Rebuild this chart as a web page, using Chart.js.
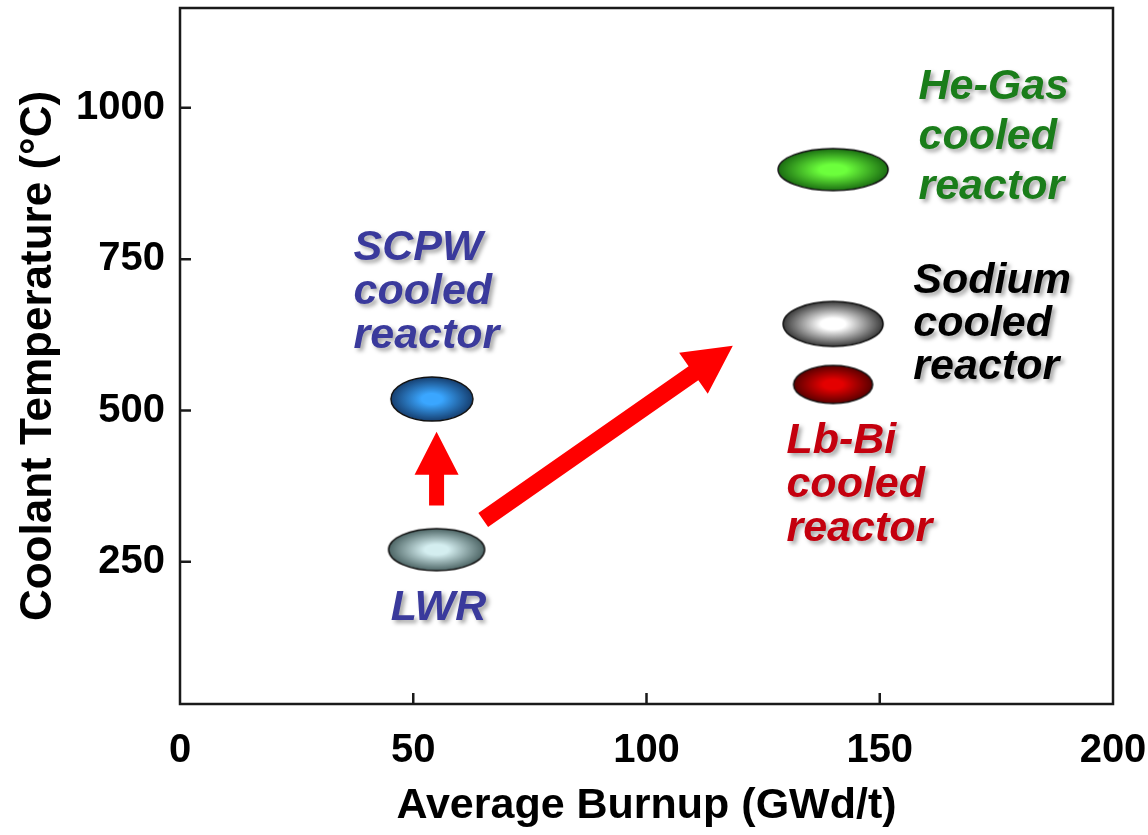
<!DOCTYPE html>
<html>
<head>
<meta charset="utf-8">
<script src="https://cdn.jsdelivr.net/npm/chart.js@4.4.0/dist/chart.umd.min.js"></script>
<style>
    html, body { margin: 0; padding: 0; background: #fff; }
    #wrap { width: 1148px; height: 835px; position: relative; }
</style>
</head>
<body>
<div id="wrap"><canvas id="myChart"></canvas></div>
<script>
// DATA
const reactorNames = ["LWR", "SCPW", "He-Gas", "Sodium", "Lb-Bi"];
const averageBurnup = [55, 54, 140, 140, 140];
const coolantTemp = [270, 519, 898, 643, 543];

const xTickValues = [0, 50, 100, 150, 200];
const yTickValues = [250, 500, 750, 1000];

// ARROWS (LWR -> SCPW, LWR -> fast reactors)
const arrowFromBurnup = [55, 65];
const arrowFromTemp = [343, 319];
const arrowToBurnup = [55, 118.5];
const arrowToTemp = [465, 607];

const labelLines = [
    ["LWR"],
    ["SCPW", "cooled", "reactor"],
    ["He-Gas", "cooled", "reactor"],
    ["Sodium", "cooled", "reactor"],
    ["Lb-Bi", "cooled", "reactor"],
];

// STYLES
const FONT = "'Liberation Sans', Arial, Helvetica, sans-serif";

// label anchor (in axis units), alignment, line height, colour
const labelStyle = [
    { x: 55.4, y: 174, align: "center", lh: 44, color: "#3a3a9c" },
    { x: 37.2, y: 768, align: "left", lh: 44, color: "#3a3a9c" },
    { x: 158.3, y: 1034, align: "left", lh: 50, color: "#1a7d1a" },
    { x: 157.2, y: 714, align: "left", lh: 43, color: "#000000" },
    { x: 130, y: 450, align: "left", lh: 44, color: "#c4000e" },
];

// blob sizes and gradient colours
const blobStyle = [
    { w: 96, h: 42, inner: "#d4eef0", outer: "#4d6565" },
    { w: 82, h: 44, inner: "#3aa6ff", outer: "#163f70" },
    { w: 110, h: 42, inner: "#6cff3c", outer: "#1b6e12" },
    { w: 100, h: 45, inner: "#ffffff", outer: "#3a3a3a" },
    { w: 79, h: 38, inner: "#e40000", outer: "#5a0000" },
];

const arrowStyle = [
    { shaft: 15, headL: 43, headW: 44 },
    { shaft: 17, headL: 48, headW: 50 },
];

// MAKE ELLIPSE POINT IMAGE
function makeBlob(s) {
    const pad = 3;
    const c = document.createElement("canvas");
    c.width = s.w + pad * 2;
    c.height = s.h + pad * 2;
    const g = c.getContext("2d");
    g.save();
    g.translate(c.width / 2, c.height / 2);
    g.scale(1, s.h / s.w);
    const grad = g.createRadialGradient(0, 0, 0, 0, 0, s.w / 2);
    grad.addColorStop(0, s.inner);
    grad.addColorStop(0.25, s.inner);
    grad.addColorStop(1, s.outer);
    g.beginPath();
    g.arc(0, 0, s.w / 2, 0, Math.PI * 2);
    g.fillStyle = grad;
    g.fill();
    g.restore();
    g.beginPath();
    g.ellipse(c.width / 2, c.height / 2, s.w / 2, s.h / 2, 0, 0, Math.PI * 2);
    g.lineWidth = 1.5;
    g.strokeStyle = "#111";
    g.stroke();
    return c;
}
// MAKE ELLIPSE POINT IMAGE

function drawArrow(ctx, x1, y1, x2, y2, st) {
    const ang = Math.atan2(y2 - y1, x2 - x1);
    const len = Math.hypot(x2 - x1, y2 - y1);
    ctx.save();
    ctx.translate(x1, y1);
    ctx.rotate(ang);
    ctx.beginPath();
    ctx.moveTo(0, -st.shaft / 2);
    ctx.lineTo(len - st.headL, -st.shaft / 2);
    ctx.lineTo(len - st.headL, -st.headW / 2);
    ctx.lineTo(len, 0);
    ctx.lineTo(len - st.headL, st.headW / 2);
    ctx.lineTo(len - st.headL, st.shaft / 2);
    ctx.lineTo(0, st.shaft / 2);
    ctx.closePath();
    ctx.fillStyle = "#ff0000";
    ctx.fill();
    ctx.restore();
}

// DECORATION PLUGIN: arrows, frame, inward ticks, labels
const reactorDecor = {
    id: "reactorDecor",
    beforeDatasetsDraw(chart) {
        const ctx = chart.ctx;
        const xs = chart.scales.x;
        const ys = chart.scales.y;
        for (let i = 0; i < arrowFromBurnup.length; i++) {
            drawArrow(
                ctx,
                xs.getPixelForValue(arrowFromBurnup[i]),
                ys.getPixelForValue(arrowFromTemp[i]),
                xs.getPixelForValue(arrowToBurnup[i]),
                ys.getPixelForValue(arrowToTemp[i]),
                arrowStyle[i]
            );
        }
    },
    afterDatasetsDraw(chart) {
        const ctx = chart.ctx;
        const a = chart.chartArea;
        const xs = chart.scales.x;
        const ys = chart.scales.y;

        ctx.save();
        ctx.strokeStyle = "#1a1a1a";
        ctx.lineWidth = 2.5;
        ctx.strokeRect(a.left, a.top, a.right - a.left, a.bottom - a.top);
        ctx.beginPath();
        xTickValues.forEach(function (v) {
            if (v <= xs.min || v >= xs.max) return;
            const px = xs.getPixelForValue(v);
            ctx.moveTo(px, a.bottom);
            ctx.lineTo(px, a.bottom - 11);
        });
        yTickValues.forEach(function (v) {
            const py = ys.getPixelForValue(v);
            ctx.moveTo(a.left, py);
            ctx.lineTo(a.left + 11, py);
        });
        ctx.stroke();
        ctx.restore();

        ctx.save();
        ctx.font = "italic bold 43px " + FONT;
        ctx.textBaseline = "middle";
        ctx.shadowColor = "rgba(0,0,0,0.35)";
        ctx.shadowOffsetX = 3;
        ctx.shadowOffsetY = 3;
        ctx.shadowBlur = 4;
        labelLines.forEach(function (lines, i) {
            const s = labelStyle[i];
            const px = xs.getPixelForValue(s.x);
            const py = ys.getPixelForValue(s.y);
            ctx.fillStyle = s.color;
            ctx.textAlign = s.align;
            lines.forEach(function (t, j) {
                ctx.fillText(t, px, py + j * s.lh);
            });
        });
        ctx.restore();
    },
};
// DECORATION PLUGIN

const points = averageBurnup.map(function (b, i) {
    return { x: b, y: coolantTemp[i] };
});

const ctx = document.getElementById("myChart").getContext("2d");
new Chart(ctx, {
    type: "scatter",
    data: {
        datasets: [
            {
                label: "Reactors",
                data: points,
                pointStyle: blobStyle.map(makeBlob),
                pointRadius: 4,
            },
        ],
    },
    options: {
        responsive: true,
        maintainAspectRatio: false,
        animation: false,
        layout: {
            autoPadding: false,
            padding: { top: 8, right: 35, left: 0, bottom: 0 },
        },
        plugins: {
            legend: { display: false },
            tooltip: { enabled: false },
        },
        scales: {
            x: {
                type: "linear",
                min: 0,
                max: 200,
                afterFit: function (scale) {
                    scale.height = 131;
                    scale.paddingLeft = 0;
                    scale.paddingRight = 0;
                },
                afterBuildTicks: function (scale) {
                    scale.ticks = xTickValues.map(function (v) {
                        return { value: v };
                    });
                },
                grid: { display: false, drawTicks: false },
                border: { display: false },
                ticks: {
                    padding: 23,
                    color: "#000",
                    maxRotation: 0,
                    callback: function (v) {
                        return String(v);
                    },
                    font: { family: FONT, size: 40, weight: "bold" },
                },
                title: {
                    display: true,
                    text: "Average Burnup (GWd/t)",
                    color: "#000",
                    padding: { top: 0, bottom: 3 },
                    font: { family: FONT, size: 43, weight: "bold" },
                },
            },
            y: {
                type: "linear",
                min: 15,
                max: 1165,
                afterFit: function (scale) {
                    scale.width = 180;
                    scale.paddingTop = 0;
                    scale.paddingBottom = 0;
                },
                afterBuildTicks: function (scale) {
                    scale.ticks = yTickValues.map(function (v) {
                        return { value: v };
                    });
                },
                grid: { display: false, drawTicks: false },
                border: { display: false },
                ticks: {
                    padding: 15,
                    color: "#000",
                    callback: function (v) {
                        return String(v);
                    },
                    font: { family: FONT, size: 40, weight: "bold" },
                },
                title: {
                    display: true,
                    text: "Coolant Temperature (°C)",
                    color: "#000",
                    padding: { top: 12, bottom: 0 },
                    font: { family: FONT, size: 44, weight: "bold" },
                },
            },
        },
    },
    plugins: [reactorDecor],
});
</script>
</body>
</html>
